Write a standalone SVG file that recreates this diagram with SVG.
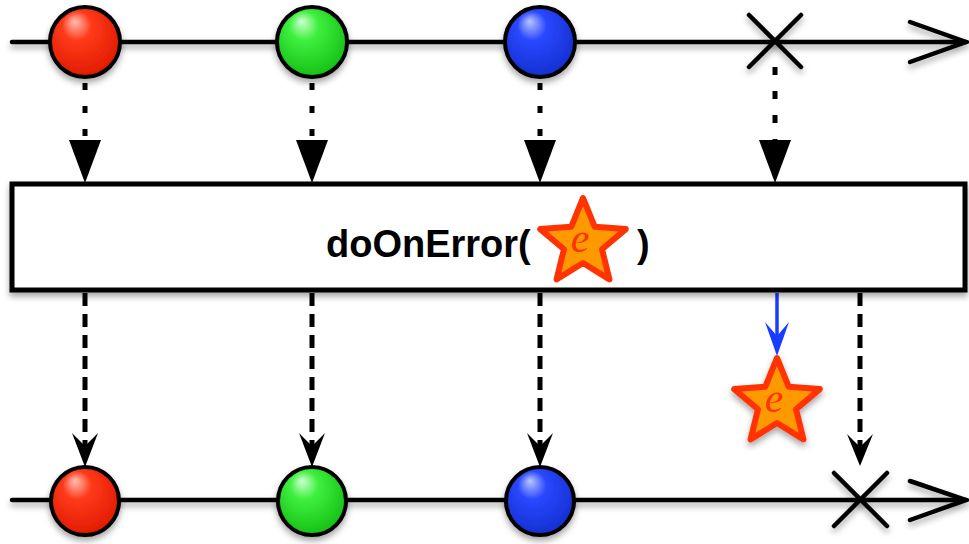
<svg xmlns="http://www.w3.org/2000/svg" width="969" height="544" viewBox="0 0 969 544">
<defs>
  <filter id="sh" x="-20%" y="-20%" width="140%" height="160%">
    <feDropShadow dx="0" dy="4" stdDeviation="3" flood-color="#000" flood-opacity="0.35"/>
  </filter>
  <radialGradient id="gRed" cx="0.45" cy="0.4" r="0.6" fx="0.35" fy="0.2">
    <stop offset="0" stop-color="#ffc0b5"/>
    <stop offset="0.35" stop-color="#ff3a1a"/>
    <stop offset="1" stop-color="#e01c00"/>
  </radialGradient>
  <radialGradient id="gGreen" cx="0.45" cy="0.4" r="0.6" fx="0.35" fy="0.2">
    <stop offset="0" stop-color="#d0ffd0"/>
    <stop offset="0.35" stop-color="#3ef03e"/>
    <stop offset="1" stop-color="#16c016"/>
  </radialGradient>
  <radialGradient id="gBlue" cx="0.45" cy="0.4" r="0.6" fx="0.35" fy="0.2">
    <stop offset="0" stop-color="#b8c6ff"/>
    <stop offset="0.35" stop-color="#2a48ff"/>
    <stop offset="1" stop-color="#1430d0"/>
  </radialGradient>
  <path id="star" d="M0,-45 L11.76,-16.18 L42.8,-13.91 L19.02,6.18 L26.45,36.41 L0,20 L-26.45,36.41 L-19.02,6.18 L-42.8,-13.91 L-11.76,-16.18 Z"/>
</defs>
<style>
  .line { stroke:#000; stroke-width:4.5; fill:none; stroke-linecap:round; }
  .chev { stroke:#000; stroke-width:4.5; fill:none; stroke-linecap:round; stroke-linejoin:miter; }
  .ball { stroke:#000; stroke-width:4; }
  .dot { stroke:#000; stroke-width:5; fill:none; }
  .dash { stroke:#000; stroke-width:5; fill:none; stroke-dasharray:13 8; }
  .tri { fill:#000; }
  .box { fill:#fff; stroke:#000; stroke-width:5; }
  .label { font-family:"Liberation Sans", Arial, sans-serif; font-weight:bold; font-size:38px; fill:#000; }
  .starShape { fill:#ff9900; stroke:#ff3300; stroke-width:6; stroke-linejoin:round; }
  .e { font-family:"Liberation Serif", "Times New Roman", serif; font-style:italic; font-size:42px; fill:#ff3300; }
</style>

<g id="timeline-top" filter="url(#sh)">
  <line class="line" x1="12" y1="42" x2="966" y2="42"/>
  <polyline class="chev" points="910,22 966,42 910,62"/>
</g>
<g id="timeline-bottom" filter="url(#sh)">
  <line class="line" x1="12" y1="500" x2="966" y2="500"/>
  <polyline class="chev" points="910,481 966,500 910,520"/>
</g>

<g id="connectors">
  <line class="dot" x1="85" y1="83" x2="85" y2="140" stroke-dasharray="7 16"/>
  <polygon class="tri" points="69,140 101,140 85,183"/>
  <line class="dot" x1="312" y1="83" x2="312" y2="140" stroke-dasharray="7 16"/>
  <polygon class="tri" points="296,140 328,140 312,183"/>
  <line class="dot" x1="540" y1="83" x2="540" y2="140" stroke-dasharray="7 16"/>
  <polygon class="tri" points="524,140 556,140 540,183"/>
  <line class="dot" x1="775" y1="67" x2="775" y2="140" stroke-dasharray="8 16"/>
  <polygon class="tri" points="759,140 791,140 775,183"/>

  <line class="dash" x1="85" y1="293" x2="85" y2="448"/>
  <path d="M72,433 L85,467 L98,433 L85,446 Z" fill="#000"/>
  <line class="dash" x1="312" y1="293" x2="312" y2="448"/>
  <path d="M299,433 L312,467 L325,433 L312,446 Z" fill="#000"/>
  <line class="dash" x1="540" y1="293" x2="540" y2="448"/>
  <path d="M527,433 L540,467 L553,433 L540,446 Z" fill="#000"/>
  <line class="dash" x1="860" y1="293" x2="860" y2="448"/>
  <path d="M847,434 L860,466 L873,434 L860,447 Z" fill="#000"/>

  <line x1="777" y1="293" x2="777" y2="340" stroke="#1a3cff" stroke-width="3.5"/>
  <path d="M765,322 L777,356 L789,322 L777,336 Z" fill="#1a3cff"/>
</g>

<g id="top-red" filter="url(#sh)"><circle class="ball" cx="85" cy="42" r="35" fill="url(#gRed)"/></g>
<g id="top-green" filter="url(#sh)"><circle class="ball" cx="312" cy="42" r="35" fill="url(#gGreen)"/></g>
<g id="top-blue" filter="url(#sh)"><circle class="ball" cx="540" cy="42" r="35" fill="url(#gBlue)"/></g>
<g id="top-error" filter="url(#sh)">
  <line class="line" x1="749" y1="15" x2="801" y2="67"/>
  <line class="line" x1="801" y1="15" x2="749" y2="67"/>
</g>

<g id="operator">
  <rect class="box" x="12" y="184" width="953" height="106" filter="url(#sh)"/>
  <text class="label" x="326" y="257">doOnError(</text>
  <g transform="translate(583,243)">
    <use href="#star" class="starShape"/>
  </g>
  <text class="e" x="580" y="252" text-anchor="middle">e</text>
  <text class="label" x="637" y="257">)</text>
</g>

<g id="error-star" filter="url(#sh)">
  <g transform="translate(777,403)">
    <use href="#star" class="starShape"/>
  </g>
  <text class="e" x="774" y="412" text-anchor="middle">e</text>
</g>

<g id="bottom-red" filter="url(#sh)"><circle class="ball" cx="85" cy="501" r="34" fill="url(#gRed)"/></g>
<g id="bottom-green" filter="url(#sh)"><circle class="ball" cx="312" cy="501" r="34" fill="url(#gGreen)"/></g>
<g id="bottom-blue" filter="url(#sh)"><circle class="ball" cx="540" cy="501" r="34" fill="url(#gBlue)"/></g>
<g id="bottom-error" filter="url(#sh)">
  <line class="line" x1="834" y1="473" x2="887" y2="526"/>
  <line class="line" x1="887" y1="473" x2="834" y2="526"/>
</g>
</svg>
